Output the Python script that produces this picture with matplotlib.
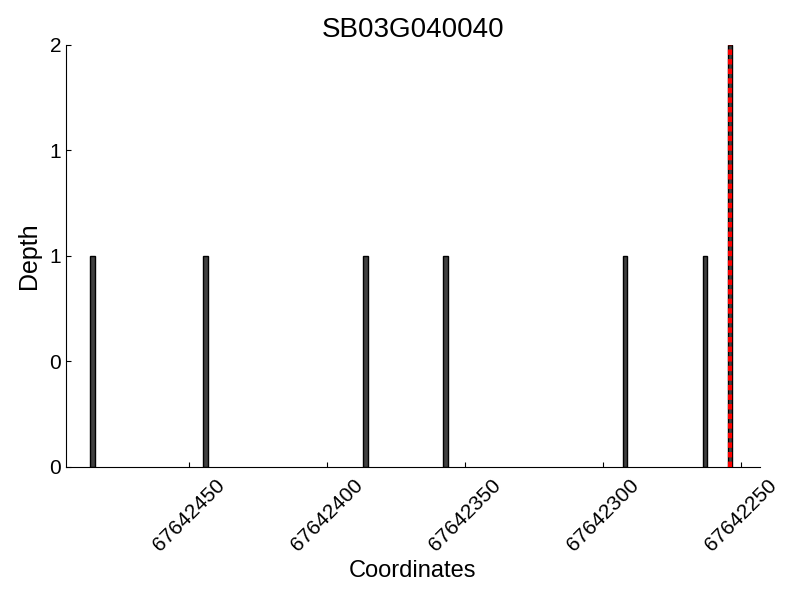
import matplotlib
matplotlib.use('Agg')
import matplotlib.pyplot as plt
from matplotlib.ticker import FormatStrFormatter

plt.rcParams['font.family'] = ['Liberation Sans', 'DejaVu Sans']

gene = "SB03G040040"
positions = [67642485, 67642444, 67642386, 67642357, 67642292, 67642263, 67642254]
depths = [1, 1, 1, 1, 1, 1, 2]
marker_pos = 67642254

fig = plt.figure(figsize=(8, 6), dpi=100)
ax = fig.add_axes([0.0825, 0.2217, 0.8675, 0.7033])

ax.bar(positions, depths, width=1.6, color='#404040', edgecolor='black', linewidth=1)
ax.axvline(marker_pos, color='red', linestyle='--', linewidth=3, dashes=(1.3, 1.0), zorder=5)

ax.set_xlim(67642494.6, 67642243.1)
ax.set_ylim(0, 2)
ax.set_xticks([67642450, 67642400, 67642350, 67642300, 67642250])
ax.set_yticks([0, 0.5, 1, 1.5, 2])
ax.yaxis.set_major_formatter(FormatStrFormatter('%d'))
ax.xaxis.set_major_formatter(FormatStrFormatter('%d'))
ax.tick_params(direction='in', labelsize=15)
ax.tick_params(axis='x', pad=6)
plt.setp(ax.get_xticklabels(), rotation=45)

for s in ['top', 'right']:
    ax.spines[s].set_visible(False)

ax.set_title(gene, fontsize=20)
ax.set_xlabel("Coordinates", fontsize=17)
ax.set_ylabel("Depth", fontsize=18, labelpad=6)

fig.savefig('out.png')
